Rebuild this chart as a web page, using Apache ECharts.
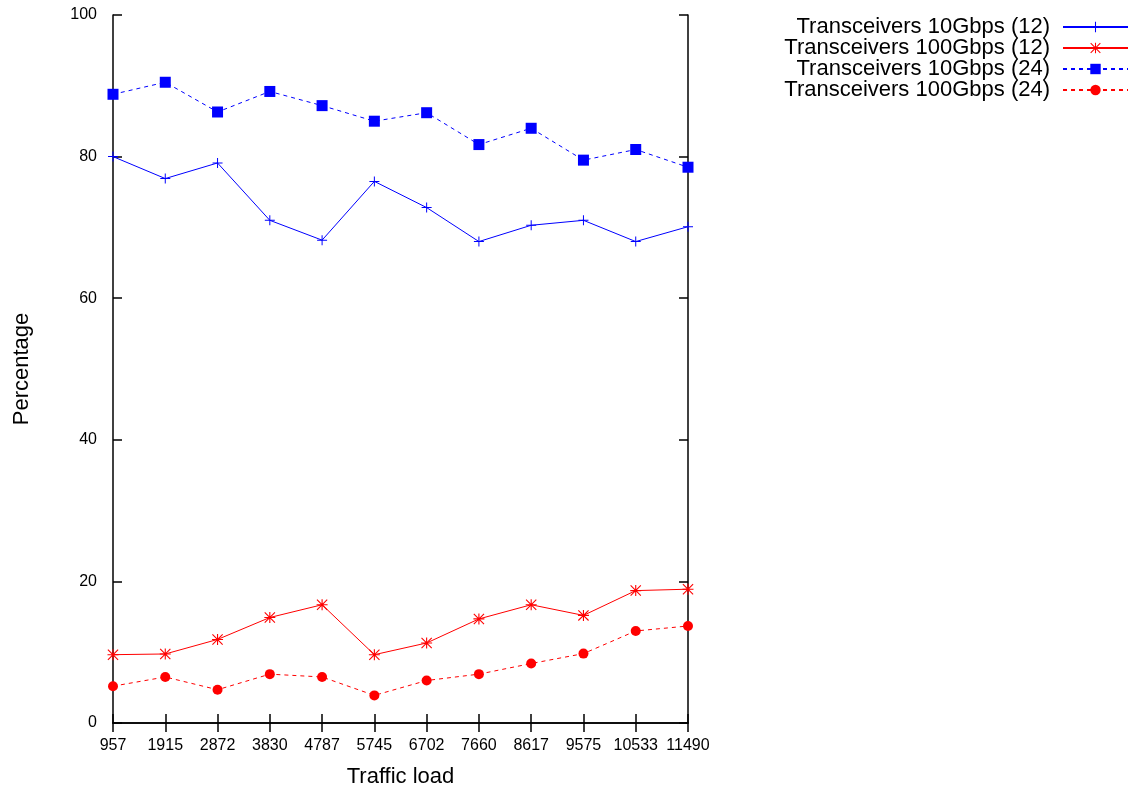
<!DOCTYPE html>
<html>
<head>
<meta charset="utf-8">
<script src="https://cdn.jsdelivr.net/npm/echarts@6/dist/echarts.min.js"></script>
<style>
html,body{margin:0;padding:0;background:#fff;}
#chart{width:1136px;height:793px;}
</style>
</head>
<body>
<div id="chart"></div>
<script>
const categories = ['957','1915','2872','3830','4787','5745','6702','7660','8617','9575','10533','11490'];
const yTicks = [0, 20, 40, 60, 80, 100];
const names = ['Transceivers 10Gbps (12)','Transceivers 100Gbps (12)','Transceivers 10Gbps (24)','Transceivers 100Gbps (24)'];
const s10g12  = [80.0, 76.9, 79.1, 71.0, 68.2, 76.5, 72.8, 68.0, 70.3, 71.0, 68.0, 70.1];
const s100g12 = [9.65, 9.75, 11.8, 14.9, 16.7, 9.65, 11.3, 14.7, 16.7, 15.2, 18.7, 18.9];
const s10g24  = [88.8, 90.5, 86.3, 89.2, 87.2, 85.0, 86.2, 81.7, 84.0, 79.5, 81.0, 78.5];
const s100g24 = [5.2, 6.5, 4.7, 6.9, 6.5, 3.9, 6.0, 6.9, 8.4, 9.8, 13.0, 13.7];

const plusPath = 'path://M45,0L55,0L55,45L100,45L100,55L55,55L55,100L45,100L45,55L0,55L0,45L45,45Z';
const starPath = 'path://M45,0L55,0L55,45L100,45L100,55L55,55L55,100L45,100L45,55L0,55L0,45L45,45Z' +
  'M7,0L100,93L93,100L0,7Z' +
  'M93,0L100,7L7,100L0,93Z';

const FONT = 'Liberation Sans';
const chart = echarts.init(document.getElementById('chart'), null, {renderer: 'canvas'});

function mkSeries(name, data, color, symbol, size, dashed) {
  return {
    name: name,
    type: 'line',
    data: data,
    xAxisIndex: 0,
    yAxisIndex: 0,
    symbol: symbol,
    symbolSize: size,
    showAllSymbol: true,
    animation: false,
    lineStyle: {color: color, width: 1, type: dashed ? [4, 4] : 'solid'},
    itemStyle: {color: color, borderWidth: 0},
    emphasis: {disabled: true}
  };
}

const axisLine = {show: true, lineStyle: {color: '#000', width: 1.5}};
const axisTick = {show: true, inside: true, length: 9, lineStyle: {color: '#000', width: 1.5}};

chart.setOption({
  backgroundColor: '#fff',
  animation: false,
  grid: {left: 113, right: 448, top: 15, bottom: 70, containLabel: false},
  legend: {
    orient: 'vertical',
    right: 2,
    top: 11,
    align: 'right',
    itemWidth: 65,
    itemHeight: 13,
    itemGap: -1,
    selectedMode: false,
    textStyle: {fontFamily: FONT, fontSize: 22, color: '#000', lineHeight: 20, padding: [0, 8, 0, 0]},
    data: names
  },
  xAxis: [
    {
      type: 'category',
      data: categories,
      boundaryGap: false,
      position: 'bottom',
      name: 'Traffic load',
      nameLocation: 'middle',
      nameGap: 43,
      nameTextStyle: {fontFamily: FONT, fontSize: 22, color: '#000'},
      axisLine: axisLine,
      axisTick: Object.assign({alignWithLabel: true}, axisTick),
      axisLabel: {fontFamily: FONT, fontSize: 16, color: '#000', margin: 15, interval: 0},
      splitLine: {show: false}
    },
    {
      type: 'category',
      data: categories,
      boundaryGap: false,
      position: 'top',
      axisLine: axisLine,
      axisTick: axisTick,
      axisLabel: {show: false},
      splitLine: {show: false}
    }
  ],
  yAxis: [
    {
      type: 'value',
      min: yTicks[0],
      max: yTicks[yTicks.length - 1],
      interval: 20,
      position: 'left',
      name: 'Percentage',
      nameLocation: 'middle',
      nameGap: 80,
      nameTextStyle: {fontFamily: FONT, fontSize: 22, color: '#000'},
      axisLine: axisLine,
      axisTick: axisTick,
      axisLabel: {fontFamily: FONT, fontSize: 16, color: '#000', margin: 16},
      splitLine: {show: false}
    },
    {
      type: 'value',
      min: yTicks[0],
      max: yTicks[yTicks.length - 1],
      interval: 20,
      position: 'right',
      axisLine: axisLine,
      axisTick: axisTick,
      axisLabel: {show: false},
      splitLine: {show: false}
    }
  ],
  series: [
    mkSeries(names[0], s10g12, '#0000ff', plusPath, 10, false),
    mkSeries(names[1], s100g12, '#ff0000', starPath, 11, false),
    mkSeries(names[2], s10g24, '#0000ff', 'rect', 11, true),
    mkSeries(names[3], s100g24, '#ff0000', 'circle', 10, true)
  ]
});
</script>
</body>
</html>
